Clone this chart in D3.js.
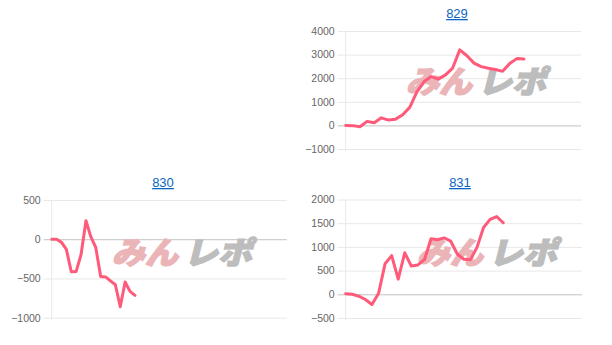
<!DOCTYPE html>
<html><head><meta charset="utf-8">
<script src="https://cdn.jsdelivr.net/npm/d3@7"></script>
<style>
html,body{margin:0;padding:0;background:#fff;}
svg{display:block;}
</style></head>
<body>
<svg id="c" width="612" height="345"></svg>
<script>
// ---- data ----
const titles = ["829", "830", "831"];
const values829 = [0, -10, -60, 170, 110, 320, 225, 265, 450, 775, 1435, 1860, 2070, 1960, 2140, 2430, 3200, 2950, 2640, 2490, 2420, 2370, 2290, 2620, 2830, 2810];
const values830 = [0, 0, -40, -130, -415, -410, -195, 235, 30, -105, -475, -480, -530, -580, -860, -545, -665, -715];
const values831 = [10, 0, -40, -110, -215, 15, 645, 815, 320, 875, 595, 620, 730, 1170, 1150, 1190, 1120, 850, 740, 730, 990, 1410, 1580, 1640, 1510];
const xLabelCount829 = 34;
const xLabelCount830 = 49;
const xLabelCount831 = 37;
const ticks829 = [-1000, 0, 1000, 2000, 3000, 4000];
const ticks830 = [-1000, -500, 0, 500];
const ticks831 = [-500, 0, 500, 1000, 1500, 2000];

// ---- layout ----
const charts = [
  {title: titles[0], values: values829, n: xLabelCount829, ticks: ticks829,
   box: {l: 345.7, r: 581, t: 31, b: 149}, titleX: 457, titleY: 18, wm: {x: 400, y: 93}},
  {title: titles[1], values: values830, n: xLabelCount830, ticks: ticks830,
   box: {l: 51.7, r: 286.7, t: 200, b: 317.7}, titleX: 163, titleY: 187, wm: {x: 106, y: 264}},
  {title: titles[2], values: values831, n: xLabelCount831, ticks: ticks831,
   box: {l: 345.7, r: 582, t: 199.5, b: 318}, titleX: 460, titleY: 187, wm: {x: 411, y: 264}}
];

const svg = d3.select("#c");

charts.forEach(c => {
  const g = svg.append("g");
  const x = d3.scaleLinear().domain([0, c.n - 1]).range([c.box.l, c.box.r]);
  const y = d3.scaleLinear().domain(d3.extent(c.ticks)).range([c.box.b, c.box.t]);

  // y axis with gridlines
  const yAxis = d3.axisLeft(y).tickValues(c.ticks)
    .tickSize(-(c.box.r - c.box.l)).tickPadding(11).tickFormat(d3.format("d"));
  const ag = g.append("g").attr("transform", `translate(${c.box.l},0)`).call(yAxis);
  ag.select(".domain").remove();
  ag.selectAll(".tick line")
    .attr("x1", -8)
    .attr("stroke", d => d === 0 ? "#c2c2c2" : "#e8e8e8").attr("stroke-width", 1);
  ag.selectAll(".tick text")
    .attr("font-family", "'Liberation Sans', Arial, sans-serif").attr("font-size", 10.5)
    .attr("fill", "#666");

  // left axis line
  g.append("line").attr("x1", c.box.l).attr("x2", c.box.l)
    .attr("y1", c.box.t).attr("y2", c.box.b + 2)
    .attr("stroke", "#e8e8e8");

  // watermark
  const wm = g.append("g").attr("transform", `translate(${c.wm.x},${c.wm.y}) skewX(-14)`);
  wm.append("text").attr("x", 6).attr("y", 0)
    .attr("font-family", "'Noto Sans CJK JP'").attr("font-weight", 900).attr("font-size", 31)
    .attr("textLength", 66).attr("lengthAdjust", "spacingAndGlyphs")
    .attr("fill", "#ebb5b8").attr("stroke", "#ebb5b8").attr("stroke-width", 1.5).text("みん");
  wm.append("text").attr("x", 78).attr("y", 0)
    .attr("font-family", "'Noto Sans CJK JP'").attr("font-weight", 900).attr("font-size", 31)
    .attr("textLength", 68).attr("lengthAdjust", "spacingAndGlyphs")
    .attr("fill", "#bdbdbd").attr("stroke", "#bdbdbd").attr("stroke-width", 1.5).text("レポ");

  // data line
  const line = d3.line().x((d, i) => x(i)).y(d => y(d)).curve(d3.curveLinear);
  g.append("path").datum(c.values).attr("d", line)
    .attr("fill", "none").attr("stroke", "#ff5a7a").attr("stroke-width", 3)
    .attr("stroke-linejoin", "round").attr("stroke-linecap", "round");

  // title
  g.append("text").attr("x", c.titleX).attr("y", c.titleY).attr("text-anchor", "middle")
    .attr("font-family", "'Liberation Sans', Arial, sans-serif").attr("font-size", 13)
    .attr("fill", "#0a66c2").attr("text-decoration", "underline").text(c.title);
});
</script>
</body></html>
